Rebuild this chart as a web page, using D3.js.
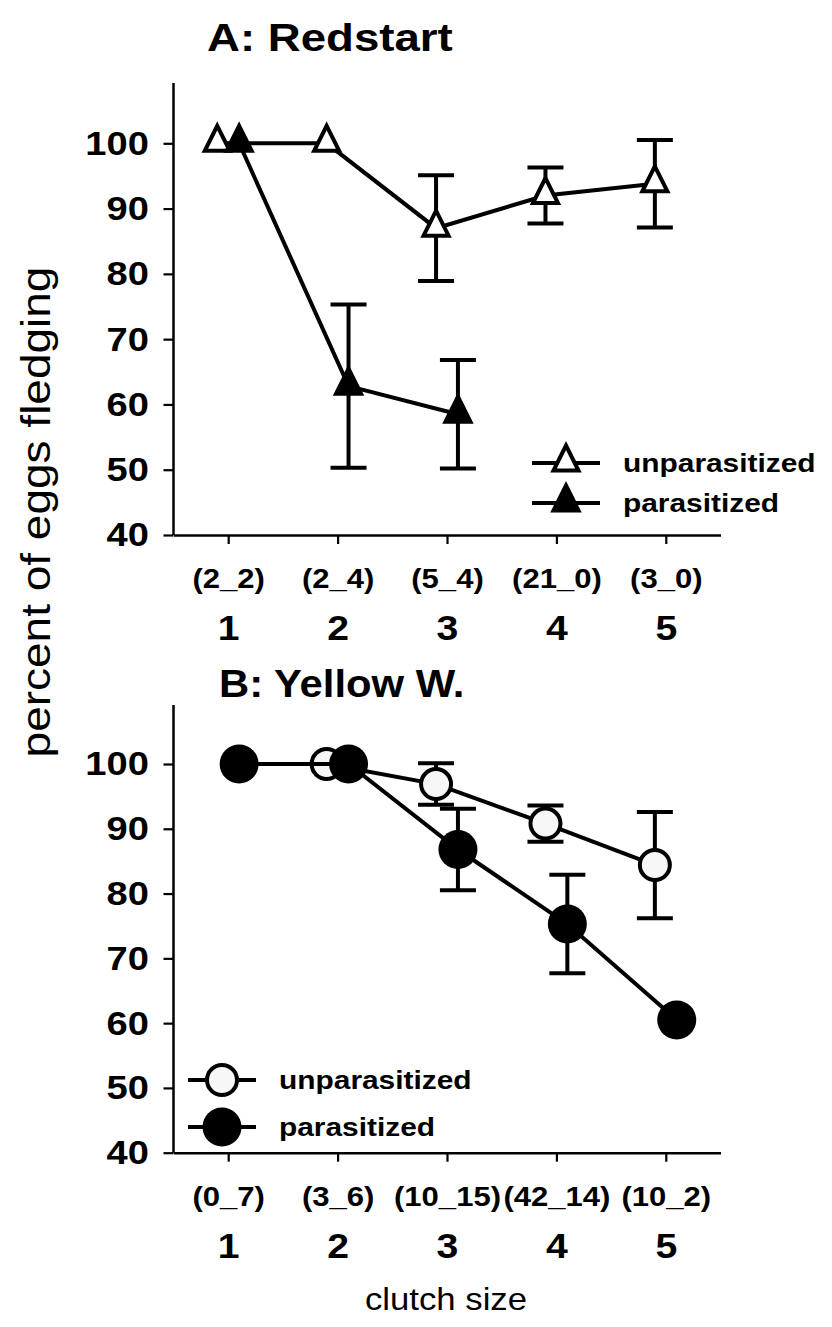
<!DOCTYPE html>
<html>
<head>
<meta charset="utf-8">
<script src="https://cdn.jsdelivr.net/npm/d3@7"></script>
<style>
  body { margin: 0; background: #fff; }
  svg text { font-family: "Liberation Sans", Arial, Helvetica, sans-serif; fill: #000; }
</style>
</head>
<body>
<svg id="chart" width="832" height="1327"></svg>
<script>
// Clutch sizes and the (unparasitized_parasitized) nest counts under each
const clutchSizes = [1, 2, 3, 4, 5];
const redstartCounts = ["(2_2)", "(2_4)", "(5_4)", "(21_0)", "(3_0)"];
const yellowCounts = ["(0_7)", "(3_6)", "(10_15)", "(42_14)", "(10_2)"];
const yTicks = [40, 50, 60, 70, 80, 90, 100];

// Percent of eggs fledging (mean) and standard error; null = no nests
const redstartUnpar = [100, 100, 87.0, 92.0, 93.8];
const redstartUnparErr = [0, 0, 8.1, 4.3, 6.7];
const redstartPar = [100, 62.8, 58.5, null, null];
const redstartParErr = [0, 12.5, 8.3, null, null];

const yellowUnpar = [null, 100, 96.9, 90.8, 84.4];
const yellowUnparErr = [null, 0, 3.2, 2.8, 8.2];
const yellowPar = [100, 100, 86.8, 75.3, 60.5];
const yellowParErr = [0, 0, 6.3, 7.6, 0];

const seriesNames = ["unparasitized", "parasitized"];

// ---- layout ----
const svg = d3.select("#chart");
const SX = 1.12;           // horizontal stretch of the lettering
const axisX = 173.5;
const x = d3.scaleLinear().domain([0.5, 5.5]).range([axisX, 720.5]);
const dodge = 0.1;         // side-by-side offset of the two series

const panels = [
  { title: "A: Redstart", titleX: 207, titleY: 51, titleSX: 1.2, yRange: [535, 143.3], spineTop: 83,
    counts: redstartCounts, marker: "triangle",
    series: [ { name: seriesNames[0], vals: redstartUnpar, err: redstartUnparErr, filled: false, dx: -dodge },
              { name: seriesNames[1], vals: redstartPar, err: redstartParErr, filled: true, dx: dodge } ],
    legend: { x: 566, y: [463, 503] } },
  { title: "B: Yellow W.", titleX: 219, titleY: 697, titleSX: 1.1, yRange: [1152.7, 764], spineTop: 705,
    counts: yellowCounts, marker: "circle",
    series: [ { name: seriesNames[0], vals: yellowUnpar, err: yellowUnparErr, filled: false, dx: -dodge },
              { name: seriesNames[1], vals: yellowPar, err: yellowParErr, filled: true, dx: dodge } ],
    legend: { x: 222, y: [1080, 1127] } }
];

const triPath = "M0,-17.5L12.5,7.5L-12.5,7.5Z";

function drawMarker(g, kind, filled) {
  if (kind === "triangle") {
    g.append("path").attr("d", triPath)
      .attr("fill", filled ? "#000" : "#fff")
      .attr("stroke", "#000").attr("stroke-width", 4).attr("stroke-linejoin", "miter");
  } else {
    if (filled) {
      g.append("circle").attr("r", 19.5).attr("fill", "#000");
    } else {
      g.append("circle").attr("r", 15).attr("fill", "#f7f7f7")
        .attr("stroke", "#000").attr("stroke-width", 4);
    }
  }
}

panels.forEach(p => {
  const y = d3.scaleLinear().domain([40, 100]).range(p.yRange);
  const g = svg.append("g");

  // title
  g.append("text")
    .attr("transform", `translate(${p.titleX},${p.titleY}) scale(${p.titleSX},1)`)
    .attr("font-size", 38).attr("font-weight", "bold")
    .text(p.title);

  // y axis
  const yAxis = g.append("g").attr("transform", `translate(${axisX},0)`)
    .call(d3.axisLeft(y).tickValues(yTicks).tickSize(10).tickSizeOuter(0).tickPadding(12));
  yAxis.select(".domain").remove();
  yAxis.selectAll(".tick line").attr("stroke-width", 2.2);
  yAxis.selectAll(".tick text")
    .attr("font-size", 34).attr("font-weight", "bold")
    .attr("font-family", null).attr("fill", "#000")
    .attr("transform", `scale(${SX},1)`);
  g.append("line")
    .attr("x1", axisX).attr("x2", axisX)
    .attr("y1", p.spineTop).attr("y2", y(40))
    .attr("stroke", "#000").attr("stroke-width", 2.5);

  // x axis
  const xAxis = g.append("g").attr("transform", `translate(0,${y(40)})`)
    .call(d3.axisBottom(x).tickValues(clutchSizes).tickSize(9).tickSizeOuter(0)
      .tickPadding(71).tickFormat(d3.format("d")));
  xAxis.select(".domain").attr("stroke-width", 2.5);
  xAxis.selectAll(".tick line").attr("stroke-width", 2.2);
  xAxis.selectAll(".tick text")
    .attr("font-size", 35).attr("font-weight", "bold")
    .attr("font-family", null).attr("fill", "#000")
    .attr("transform", `scale(${SX},1)`);
  xAxis.selectAll(".tick").append("text")
    .attr("class", "count")
    .attr("y", 53)
    .attr("text-anchor", "middle")
    .attr("font-size", 27).attr("font-weight", "bold")
    .attr("transform", "scale(1.15,1)")
    .text((d, i) => p.counts[i]);

  // error bars, lines, markers
  const plot = g.append("g");
  p.series.forEach(s => {
    const pts = clutchSizes.map((c, i) => ({ c, v: s.vals[i], e: s.err[i] }))
      .filter(d => d.v !== null);
    const px = d => x(d.c + s.dx);

    const eb = plot.append("g").selectAll("g").data(pts.filter(d => d.e > 0)).join("g")
      .attr("stroke", "#000").attr("stroke-width", 4);
    eb.append("line").attr("x1", px).attr("x2", px)
      .attr("y1", d => y(d.v + d.e)).attr("y2", d => y(d.v - d.e));
    eb.append("line").attr("x1", d => px(d) - 18).attr("x2", d => px(d) + 18)
      .attr("y1", d => y(d.v + d.e)).attr("y2", d => y(d.v + d.e));
    eb.append("line").attr("x1", d => px(d) - 18).attr("x2", d => px(d) + 18)
      .attr("y1", d => y(d.v - d.e)).attr("y2", d => y(d.v - d.e));

    s.pts = pts; s.px = px;
  });
  p.series.forEach(s => {
    plot.append("path").datum(s.pts)
      .attr("fill", "none").attr("stroke", "#000").attr("stroke-width", 4)
      .attr("d", d3.line().x(s.px).y(d => y(d.v)));
    s.markerLayer = plot.append("g");
  });
  p.series.forEach(s => {
    s.markerLayer.selectAll("g").data(s.pts).join("g")
      .attr("transform", d => `translate(${s.px(d)},${y(d.v)})`)
      .each(function() { drawMarker(d3.select(this), p.marker, s.filled); });
  });

  // legend
  p.series.forEach((s, i) => {
    const lg = g.append("g").attr("transform", `translate(${p.legend.x},${p.legend.y[i]})`);
    lg.append("line").attr("x1", -34).attr("x2", 34)
      .attr("stroke", "#000").attr("stroke-width", 4);
    drawMarker(lg, p.marker, s.filled);
    lg.append("text")
      .attr("transform", `translate(57,9) scale(1.15,1)`)
      .attr("font-size", 26).attr("font-weight", "bold")
      .text(s.name);
  });
});

// axis titles
svg.append("text")
  .attr("transform", `translate(50,512) rotate(-90) scale(1.15,1)`)
  .attr("text-anchor", "middle").attr("font-size", 40)
  .text("percent of eggs fledging");
svg.append("text")
  .attr("transform", `translate(446,1310) scale(1.12,1)`)
  .attr("text-anchor", "middle").attr("font-size", 31)
  .text("clutch size");
</script>
</body>
</html>
